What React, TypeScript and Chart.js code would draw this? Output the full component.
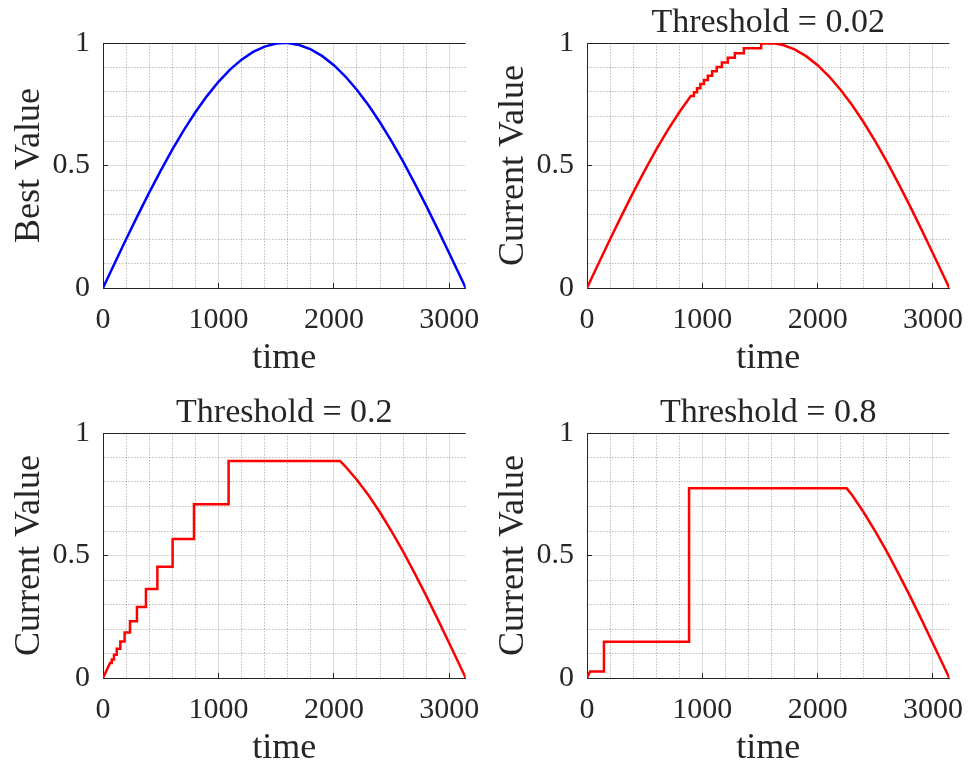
import React, { useEffect, useRef } from "react";
import { Chart, registerables } from "chart.js";

Chart.register(...registerables);

// ---------- data ----------
const T_MAX = 3141.59;

const time1 = [0, 100, 200, 300, 400, 500, 600, 700, 800, 900, 1000, 1100, 1200, 1300, 1400, 1500, 1571, 1600, 1700, 1800, 1900, 2000, 2100, 2200, 2300, 2400, 2500, 2600, 2700, 2800, 2900, 3000, 3100, 3141.59];
const best1 = [0, 0.0998, 0.1987, 0.2955, 0.3894, 0.4794, 0.5646, 0.6442, 0.7174, 0.7833, 0.8415, 0.8912, 0.932, 0.9636, 0.9854, 0.9975, 1.0, 0.9996, 0.9917, 0.9738, 0.9463, 0.9093, 0.8632, 0.8085, 0.7457, 0.6755, 0.5985, 0.5155, 0.4274, 0.335, 0.2392, 0.1411, 0.0416, 0];

const time2 = [0, 100, 200, 300, 400, 500, 600, 700, 800, 900, 927, 927, 954, 954, 983, 983, 1014, 1014, 1048, 1048, 1085, 1085, 1125, 1125, 1170, 1170, 1221, 1221, 1282, 1282, 1360, 1360, 1510, 1510, 1632, 1700, 1800, 1900, 2000, 2100, 2200, 2300, 2400, 2500, 2600, 2700, 2800, 2900, 3000, 3100, 3141.59];
const current2 = [0, 0.0998, 0.1987, 0.2955, 0.3894, 0.4794, 0.5646, 0.6442, 0.7174, 0.7833, 0.7833, 0.7993, 0.7993, 0.8156, 0.8156, 0.8322, 0.8322, 0.8492, 0.8492, 0.8665, 0.8665, 0.8842, 0.8842, 0.9022, 0.9022, 0.9206, 0.9206, 0.9394, 0.9394, 0.9586, 0.9586, 0.9781, 0.9781, 0.9981, 0.9981, 0.9917, 0.9738, 0.9463, 0.9093, 0.8632, 0.8085, 0.7457, 0.6755, 0.5985, 0.5155, 0.4274, 0.335, 0.2392, 0.1411, 0.0416, 0];

const time3 = [0, 61, 76, 76, 95, 95, 119, 119, 150, 150, 187, 187, 234, 234, 294, 294, 372, 372, 471, 471, 603, 603, 788, 788, 1088, 1088, 2053, 2100, 2200, 2300, 2400, 2500, 2600, 2700, 2800, 2900, 3000, 3100, 3141.59];
const current3 = [0, 0.061, 0.061, 0.076, 0.076, 0.095, 0.095, 0.119, 0.119, 0.149, 0.149, 0.186, 0.186, 0.232, 0.232, 0.29, 0.29, 0.363, 0.363, 0.454, 0.454, 0.567, 0.567, 0.709, 0.709, 0.886, 0.886, 0.8632, 0.8085, 0.7457, 0.6755, 0.5985, 0.5155, 0.4274, 0.335, 0.2392, 0.1411, 0.0416, 0];

const time4 = [0, 27, 147, 147, 885, 885, 2252, 2300, 2400, 2500, 2600, 2700, 2800, 2900, 3000, 3100, 3141.59];
const current4 = [0, 0.027, 0.027, 0.148, 0.148, 0.774, 0.774, 0.7457, 0.6755, 0.5985, 0.5155, 0.4274, 0.335, 0.2392, 0.1411, 0.0416, 0];

const xMajorStep = 1000;
const xMinorStep = 200;
const yMinorStep = 0.1;

// ---------- style ----------
const FONT = "'Liberation Serif', 'Times New Roman', serif";
const TEXT = "#262626";
const MAJOR_GRID = "rgba(0,0,0,0.13)";
const MINOR_GRID = "rgba(0,0,0,0.25)";

type PanelProps = {
  left: number;
  top: number;
  width: number;
  height: number;
  title?: string;
  yLabel: string;
  times: number[];
  values: number[];
  color: string;
  padRight: number;
  xAxisHeight: number;
  xTitlePad: number;
};

const isMajorX = (v: number) => Math.abs(v / xMajorStep - Math.round(v / xMajorStep)) < 1e-9;
const isMajorY = (v: number) => Math.abs(v * 2 - Math.round(v * 2)) < 1e-9;

function Panel(p: PanelProps) {
  const ref = useRef<HTMLCanvasElement | null>(null);
  useEffect(() => {
    if (!ref.current) return;
    const data = p.times.map((t, i) => ({ x: t, y: p.values[i] }));
    const chart = new Chart(ref.current, {
      type: "line",
      data: {
        datasets: [
          {
            data,
            borderColor: p.color,
            borderWidth: 2.5,
            pointRadius: 0,
            tension: 0,
            fill: false,
          },
        ],
      },
      options: {
        animation: false,
        responsive: false,
        events: [],
        layout: { padding: { left: 0, right: p.padRight, top: p.title ? 0 : 43, bottom: 0 } },
        plugins: {
          legend: { display: false },
          tooltip: { enabled: false },
          title: {
            display: !!p.title,
            text: p.title || "",
            fullSize: false,
            color: TEXT,
            font: { family: FONT, size: 34, weight: "normal", lineHeight: 1 },
            padding: { top: 6.5, bottom: 2.5 },
          },
        },
        scales: {
          x: {
            type: "linear",
            min: 0,
            max: T_MAX,
            afterFit: (s: any) => {
              s.height = p.xAxisHeight;
              s.paddingLeft = 0;
              s.paddingRight = 0;
            },
            ticks: {
              stepSize: xMinorStep,
              includeBounds: false,
              autoSkip: false,
              maxRotation: 0,
              minRotation: 0,
              padding: 19,
              color: TEXT,
              font: { family: FONT, size: 30, lineHeight: 1.2 },
              callback: (v: any) => (isMajorX(Number(v)) ? String(Math.round(Number(v))) : ""),
            },
            grid: {
              color: (ctx: any) => (ctx.tick && isMajorX(ctx.tick.value) ? MAJOR_GRID : MINOR_GRID),
              lineWidth: 1,
              drawTicks: true,
              tickLength: -5,
              tickWidth: 1,
              tickColor: (ctx: any) => (ctx.tick && isMajorX(ctx.tick.value) ? TEXT : "rgba(0,0,0,0)"),
            },
            border: {
              display: true,
              color: TEXT,
              width: 1,
              dash: (ctx: any) => (ctx.tick && !isMajorX(ctx.tick.value) ? [1.5, 1.5] : []),
            },
            title: {
              display: true,
              text: "time",
              color: TEXT,
              font: { family: FONT, size: 36, lineHeight: 1 },
              padding: { top: 0, bottom: p.xTitlePad },
            },
          },
          y: {
            type: "linear",
            min: 0,
            max: 1,
            afterFit: (s: any) => {
              s.width = 103;
              s.paddingTop = 0;
              s.paddingBottom = 0;
            },
            ticks: {
              stepSize: yMinorStep,
              autoSkip: false,
              padding: 18,
              color: TEXT,
              font: { family: FONT, size: 30, lineHeight: 1.2 },
              callback: (v: any) => (isMajorY(Number(v)) ? String(Number(v)) : ""),
            },
            grid: {
              color: (ctx: any) => {
                if (!ctx.tick) return MINOR_GRID;
                if (Math.abs(ctx.tick.value - 1) < 1e-9) return TEXT;
                return isMajorY(ctx.tick.value) ? MAJOR_GRID : MINOR_GRID;
              },
              lineWidth: 1,
              drawTicks: true,
              tickLength: -5,
              tickWidth: 1,
              tickColor: (ctx: any) => (ctx.tick && isMajorY(ctx.tick.value) ? TEXT : "rgba(0,0,0,0)"),
            },
            border: {
              display: true,
              color: TEXT,
              width: 1,
              dash: (ctx: any) => (ctx.tick && !isMajorY(ctx.tick.value) ? [1.5, 1.5] : []),
            },
            title: {
              display: true,
              text: p.yLabel,
              color: TEXT,
              font: { family: FONT, size: 36, lineHeight: 1 },
              padding: { top: 12, bottom: 0 },
            },
          },
        },
      } as any,
    });
    return () => chart.destroy();
  }, []);
  return (
    <canvas
      ref={ref}
      width={p.width}
      height={p.height}
      style={{ position: "absolute", left: p.left, top: p.top, width: p.width, height: p.height, display: "block" }}
    />
  );
}

export default function App() {
  return (
    <div style={{ position: "fixed", left: 0, top: 0, width: 969, height: 767, background: "#ffffff", overflow: "hidden" }}>
      <Panel left={0} top={0} width={484} height={390} yLabel="Best Value" times={time1} values={best1} color="#0000ff" padRight={18.3} xAxisHeight={102} xTitlePad={13} />
      <Panel left={484} top={0} width={485} height={390} title="Threshold = 0.02" yLabel="Current Value" times={time2} values={current2} color="#ff0000" padRight={19.7} xAxisHeight={102} xTitlePad={13} />
      <Panel left={0} top={390} width={484} height={377} title="Threshold = 0.2" yLabel="Current Value" times={time3} values={current3} color="#ff0000" padRight={18.3} xAxisHeight={89} xTitlePad={0} />
      <Panel left={484} top={390} width={485} height={377} title="Threshold = 0.8" yLabel="Current Value" times={time4} values={current4} color="#ff0000" padRight={19.7} xAxisHeight={89} xTitlePad={0} />
    </div>
  );
}
